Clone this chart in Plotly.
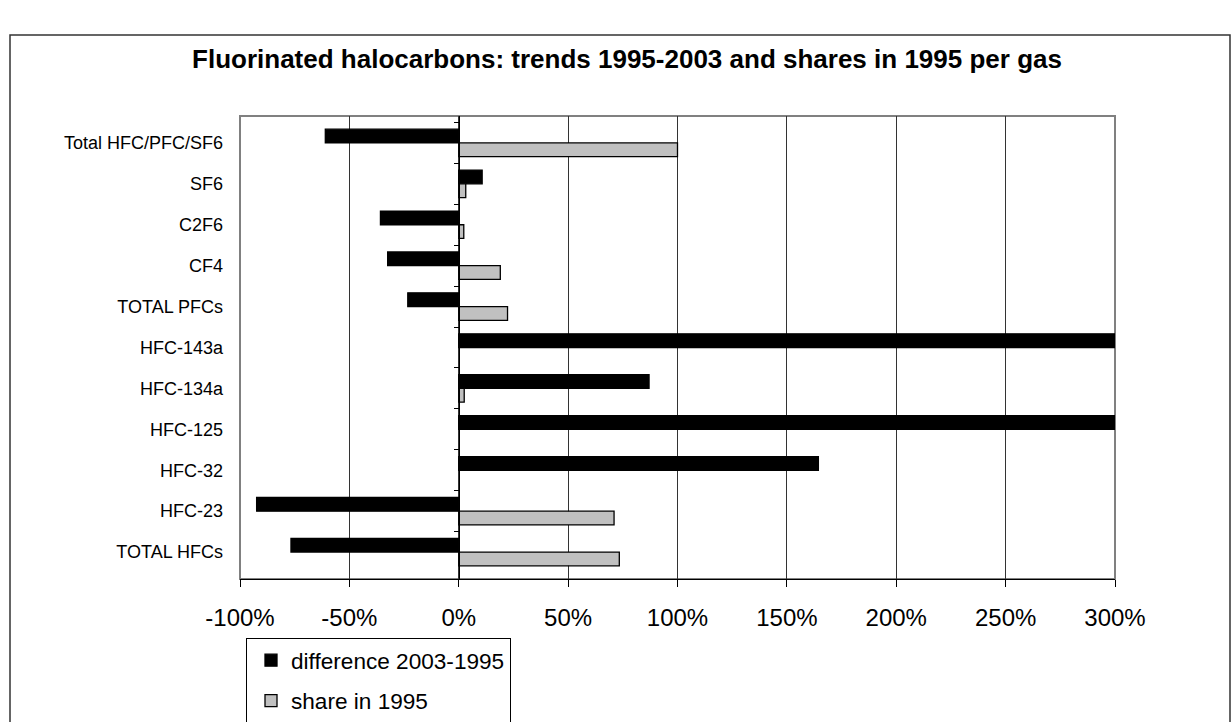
import plotly.graph_objects as go

categories = ["Total HFC/PFC/SF6", "SF6", "C2F6", "CF4", "TOTAL PFCs", "HFC-143a",
              "HFC-134a", "HFC-125", "HFC-32", "HFC-23", "TOTAL HFCs"]
difference = [-61, 10.7, -35.8, -32.5, -23.3, 315, 87, 315, 164.4, -92.4, -76.7]
share = [100, 3.2, 2.3, 19, 22.3, None, 2.5, None, None, 71, 73.4]
x_ticks = [-100, -50, 0, 50, 100, 150, 200, 250, 300]
x_tick_labels = ["-100%", "-50%", "0%", "50%", "100%", "150%", "200%", "250%", "300%"]

FONT = "Liberation Sans, Arial, sans-serif"

fig = go.Figure()
fig.add_trace(go.Bar(y=categories, x=difference, orientation="h", name="difference 2003-1995",
                     marker=dict(color="#000000", line=dict(color="#000000", width=1.3)),
                     legendgroup="a", legendrank=1))
fig.add_trace(go.Bar(y=categories, x=share, orientation="h", name="share in 1995",
                     marker=dict(color="#C0C0C0", line=dict(color="#000000", width=1.3)),
                     legendgroup="b", legendrank=2))
# invisible trace to carry the category axis drawn at 0%
fig.add_trace(go.Scatter(y=categories, x=[0] * len(categories), yaxis="y2", mode="markers",
                         marker=dict(opacity=0), showlegend=False, hoverinfo="skip"))

W, H = 1232, 722
L, R, T, B = 240, 117, 116, 143
pw, ph = W - L - R, H - T - B

fig.update_layout(
    width=W, height=H,
    margin=dict(l=L, r=R, t=T, b=B, autoexpand=False),
    paper_bgcolor="white", plot_bgcolor="white",
    font=dict(family=FONT, color="black"),
    barmode="group", bargap=0.33, bargroupgap=0,
    title=dict(text="<b>Fluorinated halocarbons: trends 1995-2003 and shares in 1995 per gas</b>",
               font=dict(size=26, family=FONT, color="black"),
               xref="container", x=627 / W, xanchor="center",
               yref="container", y=1 - 59 / H, yanchor="middle"),
    xaxis=dict(range=[-100, 300], tickvals=x_ticks, ticktext=x_tick_labels,
               showgrid=True, gridcolor="#333333", gridwidth=1,
               zeroline=False, showline=True, linecolor="#000000", linewidth=1.3,
               ticks="outside", ticklen=7, tickcolor="#000000",
               tickfont=dict(size=24, family=FONT), ticklabelstandoff=10),
    yaxis=dict(type="category", categoryorder="array", categoryarray=categories,
               autorange="reversed", showgrid=False, zeroline=False, showline=False,
               ticks="", tickfont=dict(size=18, family=FONT), ticklabelstandoff=16),
    yaxis2=dict(type="category", categoryorder="array", categoryarray=categories,
                overlaying="y", matches="y", anchor="free", position=(459.3 - L) / pw,
                showgrid=False, zeroline=False, showline=True, linecolor="#000000", linewidth=1,
                ticks="outside", ticklen=5, tickson="boundaries", tickcolor="#000000",
                showticklabels=False),
    legend=dict(x=(246 - L) / pw, y=(T + ph - 638) / ph, xanchor="left", yanchor="top",
                bordercolor="#000000", borderwidth=1, bgcolor="white",
                font=dict(size=22.6, family=FONT), traceorder="grouped", tracegroupgap=8,
                indentation=4, entrywidth=228, entrywidthmode="pixels"),
    showlegend=True,
    shapes=[
        dict(type="rect", xref="paper", yref="paper", x0=0, x1=1, y0=0, y1=1,
             line=dict(color="#808080", width=2), layer="below"),
        dict(type="rect", xref="paper", yref="paper",
             x0=(10 - L) / pw, x1=(1230 - L) / pw, y0=(T + ph - 745) / ph, y1=(T + ph - 35) / ph,
             line=dict(color="#333333", width=1.5), layer="below"),
    ],
)

fig.write_html("out.html")
